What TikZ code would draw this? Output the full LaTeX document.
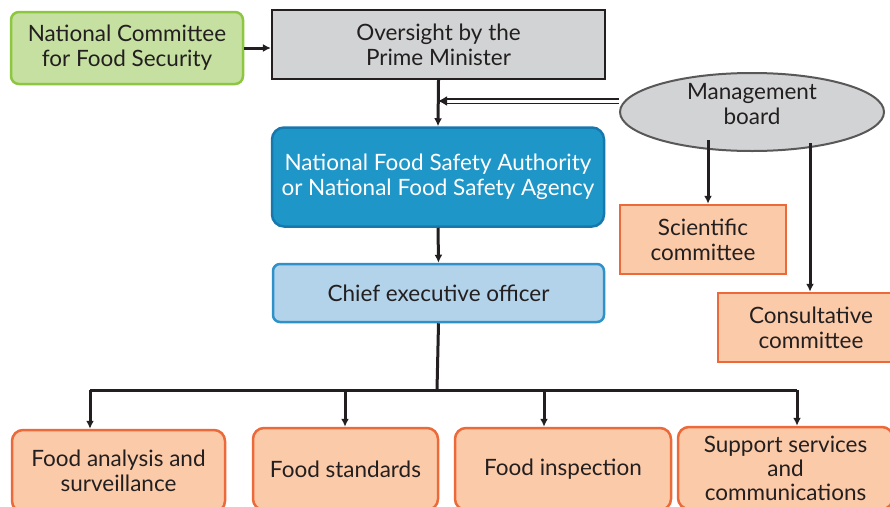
\documentclass[tikz,border=0pt]{standalone}
\usepackage{fontspec}
\setmainfont{Lato}
\usetikzlibrary{shapes.geometric,arrows.meta,calc}
\definecolor{txt}{HTML}{231F20}
\definecolor{gfill}{HTML}{C5E0A0}
\definecolor{gdraw}{HTML}{8DC63F}
\definecolor{greyfill}{HTML}{D1D3D4}
\definecolor{bfill}{HTML}{1F96C8}
\definecolor{bdraw}{HTML}{1778AE}
\definecolor{lbfill}{HTML}{B3D3EA}
\definecolor{lbdraw}{HTML}{2E91C8}
\definecolor{ofill}{HTML}{FBCAA8}
\definecolor{odraw}{HTML}{EC6A3A}
\definecolor{linec}{HTML}{231F20}
\tikzset{
  base/.style={align=center, text=txt, inner sep=2pt, font=\fontsize{22.5}{25}\selectfont},
  greenbox/.style={base, draw=gdraw, fill=gfill, line width=2.5pt, rounded corners=8pt, minimum width=232pt, minimum height=72pt},
  greybox/.style={base, draw=linec, fill=greyfill, line width=2.2pt, minimum width=333pt, minimum height=69pt},
  ellbox/.style={ellipse, draw=linec!75, fill=greyfill, line width=2pt, minimum width=264pt, minimum height=78pt, inner sep=0pt},
  bluebox/.style={base, text=white, draw=bdraw, fill=bfill, line width=2.5pt, rounded corners=12pt, minimum width=332pt, minimum height=99pt},
  lbluebox/.style={base, draw=lbdraw, fill=lbfill, line width=2.5pt, rounded corners=7pt, minimum width=331pt, minimum height=58pt},
  orbox/.style={base, draw=odraw, fill=ofill, line width=2.5pt, minimum height=69pt},
  orround/.style={base, draw=odraw, fill=ofill, line width=2.5pt, rounded corners=11pt, minimum height=82pt},
  conn/.style={draw=linec, line width=3pt},
  arr/.style={conn, -{Latex[length=8pt,width=8pt]}},
}
\begin{document}
\begin{tikzpicture}[x=1pt,y=-1pt]
\useasboundingbox (0,0) rectangle (890,506);
\begin{scope}
\clip (0,0) rectangle (890,506);
\node[greenbox] (ncfs) at (127,48) {National Committee\\for Food Security};
\node[greybox] (over) at (438.5,44.5) {Oversight by the\\Prime Minister};
\node[ellbox] (mb) at (752,112) {};
\node[base] (mbt) at (752,104) {Management\\board};
\node[bluebox] (nfsa) at (438,177) {National Food Safety Authority\\or National Food Safety Agency};
\node[lbluebox] (ceo) at (438.5,293) {Chief executive officer};
\node[orbox, minimum width=166pt] (sci) at (703,239.5) {Scientific\\committee};
\node[orbox, minimum width=186pt, text width=172pt] (cons) at (811,327.5) {Consultative\\committee};
\node[orround, minimum width=213pt] (f1) at (118.5,471) {Food analysis and\\surveillance};
\node[orround, minimum width=185pt] (f2) at (345.5,469) {Food standards};
\node[orround, minimum width=216pt] (f3) at (563,469) {Food inspection};
\node[orround, minimum width=215pt, font=\fontsize{22.5}{24}\selectfont] (f4) at (785.5,468) {Support services\\and\\communications};
\end{scope}
% connectors
\draw[arr] (ncfs.east) -- (ncfs.east -| over.west);
\draw[arr] (over.south) -- (nfsa.north);
\coordinate (mbj) at (438,101);
\draw[draw=linec, line width=1.6pt, double=white, double distance=3pt, -{Latex[length=9pt,width=10pt]}] (mb.west |- mbj) -- (mbj);
\coordinate (mbsci) at (708,140);
\draw[arr] (mbsci) -- (mbsci |- sci.north);
\coordinate (mbcons) at (810,143);
\draw[arr] (mbcons) -- (mbcons |- cons.north);
\draw[arr] (nfsa.south) -- (ceo.north);
\coordinate (bus) at (437,390);
\coordinate (b1) at (90,390);
\coordinate (b2) at (345,390);
\coordinate (b3) at (544,390);
\coordinate (b4) at (797,390);
\draw[conn] (ceo.south) -- (bus);
\draw[conn, line join=round] (b1) -- (b4);
\draw[arr] (b1) -- (b1 |- f1.north);
\draw[arr] (b2) -- (b2 |- f2.north);
\draw[arr] (b3) -- (b3 |- f3.north);
\draw[arr] (b4) -- (b4 |- f4.north);
\end{tikzpicture}
\end{document}
